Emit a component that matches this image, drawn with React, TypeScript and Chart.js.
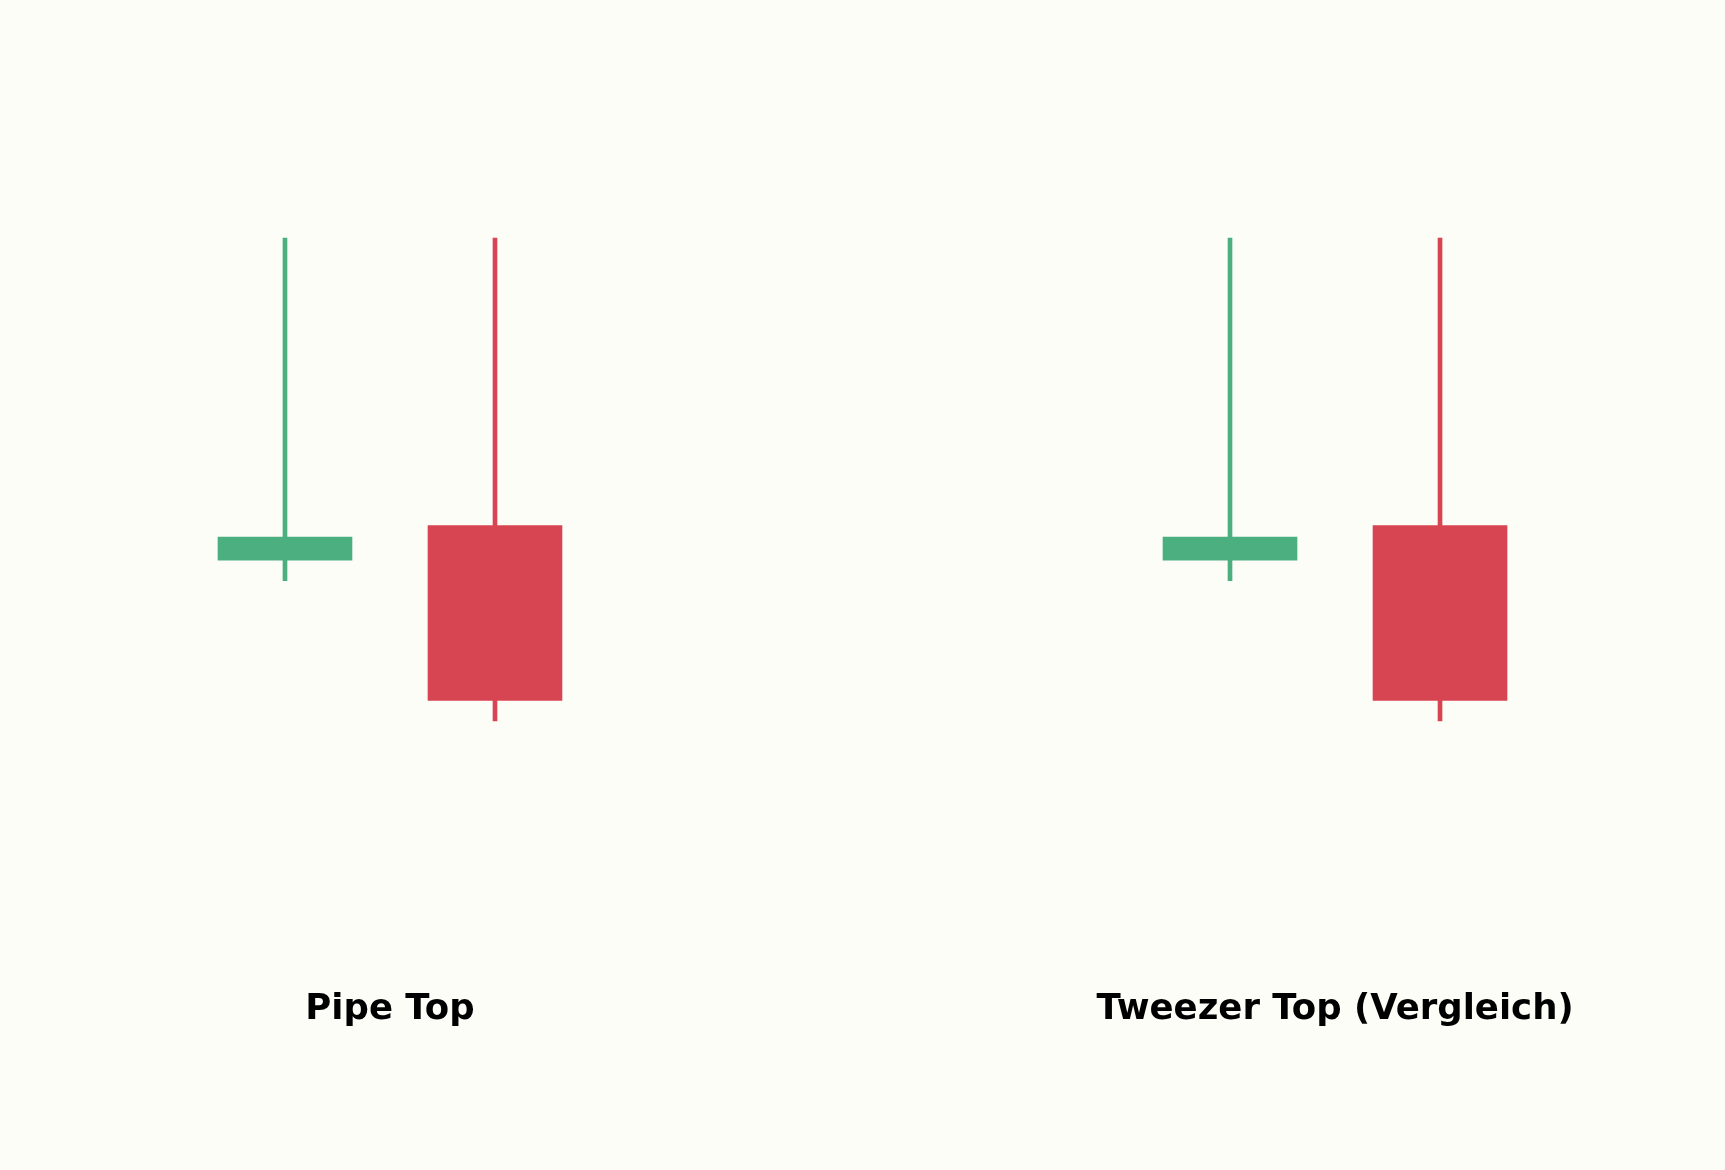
import React, { useEffect, useRef } from "react";
import Chart from "chart.js/auto";

// two-candle patterns, left = Pipe Top, right = Tweezer Top (comparison)
const candleX = [0, 1, 4.5, 5.5];
const opens = [100, 101.5, 100, 101.5];
const closes = [101, 93.9, 101, 93.9];
const highs = [114, 114, 114, 114];
const lows = [99.1, 93.0, 99.1, 93.0];

const patternNames = ["Pipe Top", "Tweezer Top (Vergleich)"];
const patternCenters = [0.5, 5.0];

const UP_COLOR = "#4caf7f";
const DOWN_COLOR = "#d84552";
const BG_COLOR = "#fdfdf8";

const App = () => {
  const chartRef = useRef<HTMLCanvasElement>(null);

  useEffect(() => {
    if (!chartRef.current) return;
    const ctx = chartRef.current.getContext("2d");
    if (!ctx) return;

    const colors = opens.map((o, i) => (closes[i] >= o ? UP_COLOR : DOWN_COLOR));

    const bodies = candleX.map((x, i) => ({ x, y: [opens[i], closes[i]] }));
    const wicks = candleX.map((x, i) => ({ x, y: [lows[i], highs[i]] }));

    const background = {
      id: "background",
      beforeDraw: (chart: any) => {
        const c = chart.ctx;
        c.save();
        c.fillStyle = BG_COLOR;
        c.fillRect(0, 0, chart.width, chart.height);
        c.restore();
      },
    };

    const patternTitles = {
      id: "patternTitles",
      afterDraw: (chart: any) => {
        const c = chart.ctx;
        const xScale = chart.scales.x;
        c.save();
        c.fillStyle = "#000";
        c.font = "bold 35.5px 'DejaVu Sans'";
        c.textAlign = "center";
        c.textBaseline = "alphabetic";
        patternNames.forEach((name, i) => {
          c.fillText(name, xScale.getPixelForValue(patternCenters[i]), 1019);
        });
        c.restore();
      },
    };

    const candleChart = new Chart(ctx, {
      type: "bar",
      data: {
        datasets: [
          {
            label: "Body",
            data: bodies as any,
            backgroundColor: colors,
            barThickness: 134,
            grouped: false,
            order: 0,
          },
          {
            label: "Wick",
            data: wicks as any,
            backgroundColor: colors,
            barThickness: 4,
            grouped: false,
            order: 1,
          },
        ],
      },
      options: {
        responsive: false,
        animation: false,
        devicePixelRatio: 1,
        layout: { padding: 0 },
        plugins: {
          legend: { display: false },
          tooltip: { enabled: false },
        },
        scales: {
          x: {
            type: "linear",
            display: false,
            offset: false,
            min: -1.357,
            max: 6.857,
          },
          y: {
            type: "linear",
            display: false,
            min: 73.48,
            max: 124.35,
          },
        },
      },
      plugins: [background, patternTitles],
    });

    return () => {
      candleChart.destroy();
    };
  }, []);

  return (
    <div
      style={{
        position: "absolute",
        left: 0,
        top: 0,
        width: 1725,
        height: 1170,
        background: BG_COLOR,
      }}
    >
      <canvas ref={chartRef} width={1725} height={1170} style={{ display: "block" }}></canvas>
    </div>
  );
};

export default App;
